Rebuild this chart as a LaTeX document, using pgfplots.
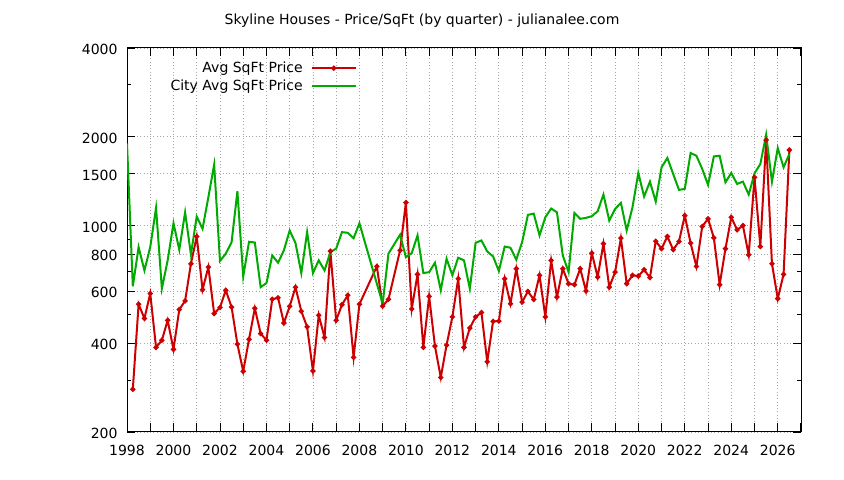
\documentclass[border=0pt]{standalone}
\usepackage{fontspec}
\setmainfont{DejaVu Sans}
\usepackage{pgfplots}
\pgfplotsset{compat=1.18}
\usepackage{pgfplotstable}

\definecolor{avgred}{RGB}{204,0,0}
\definecolor{citygreen}{RGB}{0,170,0}

% legend sample: a line 44bp long, mark in the middle
\pgfplotsset{
  legend image code/.code={%
    \draw[mark repeat=2,mark phase=2,#1] plot coordinates {(0bp,0bp) (22bp,0bp) (44bp,0bp)};%
  },
}

% quarter, price per sqft
\pgfplotstableread{
q v
1998.25 279
1998.5 542
1998.75 485
1999 589
1999.25 387
1999.5 409
1999.75 478
2000 381
2000.25 520
2000.5 556
2000.75 743
2001 919
2001.25 607
2001.5 724
2001.75 504
2002 528
2002.25 604
2002.5 530
2002.75 397
2003 321
2003.25 412
2003.5 525
2003.75 431
2004 409
2004.25 563
2004.5 570
2004.75 468
2005 533
2005.25 619
2005.5 513
2005.75 454
2006 322
2006.25 497
2006.5 418
2006.75 820
2007 478
2007.25 540
2007.5 581
2007.75 358
2008 542
2008.75 728
2009 534
2009.25 563
2009.75 825
2010 1198
2010.25 522
2010.5 684
2010.75 387
2011 576
2011.25 391
2011.5 306
2011.75 394
2012 491
2012.25 661
2012.5 387
2012.75 450
2013 491
2013.25 508
2013.5 346
2013.75 474
2014 475
2014.25 661
2014.5 544
2014.75 715
2015 551
2015.25 599
2015.5 562
2015.75 679
2016 491
2016.25 763
2016.5 573
2016.75 715
2017 636
2017.25 631
2017.5 715
2017.75 601
2018 807
2018.25 670
2018.5 869
2018.75 619
2019 696
2019.25 907
2019.5 636
2019.75 679
2020 675
2020.25 709
2020.5 667
2020.75 886
2021 836
2021.25 919
2021.5 829
2021.75 884
2022 1082
2022.25 873
2022.5 728
2022.75 994
2023 1055
2023.25 910
2023.5 631
2023.75 836
2024 1068
2024.25 968
2024.5 1001
2024.75 797
2025 1458
2025.25 850
2025.5 1951
2025.75 743
2026 566
2026.25 684
2026.5 1805
}\avgtable

\pgfplotstableread{
q v
1998 1900
1998.25 623
1998.5 846
1998.75 705
1999 846
1999.25 1149
1999.5 612
1999.75 763
2000 1019
2000.25 829
2000.5 1110
2000.75 799
2001 1074
2001.25 976
2001.5 1248
2001.75 1609
2002 759
2002.25 804
2002.5 879
2002.75 1308
2003 673
2003.25 882
2003.5 877
2003.75 619
2004 639
2004.25 793
2004.5 749
2004.75 825
2005 963
2005.25 873
2005.5 691
2005.75 951
2006 691
2006.25 763
2006.5 705
2006.75 814
2007 836
2007.25 951
2007.5 946
2007.75 907
2008 1019
2009 544
2009.25 804
2009.75 932
2010 782
2010.25 807
2010.5 927
2010.75 691
2011 696
2011.25 749
2011.5 604
2011.75 773
2012 679
2012.25 779
2012.5 763
2012.75 612
2013 875
2013.25 891
2013.5 818
2013.75 787
2014 702
2014.25 850
2014.5 842
2014.75 767
2015 879
2015.25 1088
2015.5 1099
2015.75 927
2016 1068
2016.25 1143
2016.5 1110
2016.75 793
2017 696
2017.25 1105
2017.5 1055
2017.75 1063
2018 1077
2018.25 1119
2018.5 1275
2018.75 1041
2019 1140
2019.25 1195
2019.5 963
2019.75 1155
2020 1509
2020.25 1255
2020.5 1410
2020.75 1207
2021 1577
2021.25 1696
2021.5 1497
2021.75 1322
2022 1333
2022.25 1763
2022.5 1726
2022.75 1557
2023 1375
2023.25 1717
2023.5 1726
2023.75 1403
2024 1509
2024.25 1385
2024.5 1410
2024.75 1275
2025 1504
2025.25 1618
2025.5 2033
2025.75 1410
2026 1833
2026.25 1577
2026.5 1750
}\citytable

\begin{document}
\begin{tikzpicture}
\path[use as bounding box] (0,0) rectangle (844bp,480bp);
\begin{axis}[
  at={(127bp,48bp)}, anchor=south west,
  scale only axis,
  width=674bp, height=384bp,
  font=\fontsize{14bp}{16bp}\selectfont,
  xmin=1998, xmax=2027,
  ymode=log, ymin=200, ymax=4000,
  xtick={1998,...,2027},
  xticklabels={1998,,2000,,2002,,2004,,2006,,2008,,2010,,2012,,2014,,2016,,2018,,2020,,2022,,2024,,2026,,},
  ytick={200,400,600,800,1000,1500,2000,4000},
  yticklabels={200,400,600,800,1000,1500,2000,4000},
  minor ytick={300,500,700,900,3000},
  major tick length=8.5bp,
  minor tick length=4bp,
  tick style={black, line width=0.9bp},
  axis line style={black, line width=1bp},
  grid=major,
  major grid style={gray!70, line width=0.7bp, dash pattern=on 0.7bp off 2.6bp},
  xticklabel style={yshift=-10bp},
  yticklabel style={xshift=-6bp, yshift=-1.5bp},
  title={Skyline Houses - Price/SqFt (by quarter) - julianalee.com},
  title style={at={(0.4377,1.0547)}, anchor=center, inner sep=0pt},
  legend plot pos=right,
  legend cell align=right,
  legend style={at={(0.3412,0.969)}, anchor=north east, draw=none, fill=none,
    inner sep=0pt, row sep=1.5bp, column sep=6bp, nodes={inner sep=2bp}},
]
\addplot[avgred, line width=2bp, mark=*, mark size=1.5bp] table[x=q, y=v] {\avgtable};
\addlegendentry{Avg SqFt Price}
\addplot[citygreen, line width=2bp] table[x=q, y=v] {\citytable};
\addlegendentry{City Avg SqFt Price}
\end{axis}
\end{tikzpicture}
\end{document}
